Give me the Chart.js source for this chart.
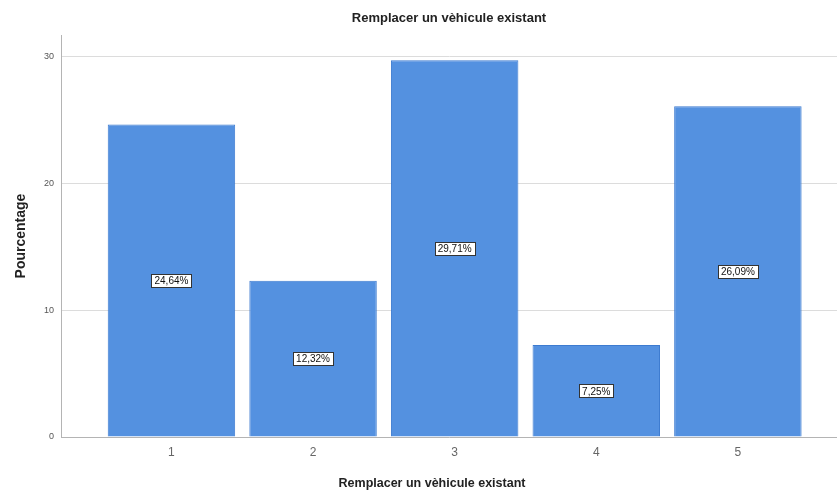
<!DOCTYPE html>
<html>
<head>
<meta charset="utf-8">
<script src="https://cdn.jsdelivr.net/npm/chart.js@4.4.1/dist/chart.umd.min.js"></script>
<style>
  html, body { margin: 0; padding: 0; background: #ffffff; }
  #wrap { width: 837px; height: 494px; position: relative; }
</style>
</head>
<body>
<div id="wrap"><canvas id="c"></canvas></div>
<script>
// Categories and percentages per answer
const categories = [1, 2, 3, 4, 5];
const percentages = [24.64, 12.32, 29.71, 7.25, 26.09];
const valueLabels = ['24,64%', '12,32%', '29,71%', '7,25%', '26,09%'];
const yTicks = [0, 10, 20, 30];
const chartTitle = 'Remplacer un vèhicule existant';
const xTitle = 'Remplacer un vèhicule existant';
const yTitle = 'Pourcentage';

const FONT = '"Liberation Sans", Arial, sans-serif';

// Boxed percentage label in the middle of each bar
const barLabels = {
  id: 'barLabels',
  afterDatasetsDraw(chart) {
    const ctx = chart.ctx;
    const meta = chart.getDatasetMeta(0);
    ctx.save();
    ctx.font = '10px ' + FONT;
    ctx.textAlign = 'center';
    ctx.textBaseline = 'middle';
    meta.data.forEach((bar, i) => {
      const cy = (bar.y + bar.base) / 2;
      const text = valueLabels[i];
      const w = Math.round(ctx.measureText(text).width + 6);
      const h = 13;
      const x0 = Math.round(bar.x - w / 2) + 0.5;
      const y0 = Math.round(cy - h / 2) + 0.5;
      ctx.fillStyle = '#ffffff';
      ctx.fillRect(x0, y0, w, h);
      ctx.strokeStyle = '#333333';
      ctx.lineWidth = 1;
      ctx.strokeRect(x0, y0, w, h);
      ctx.fillStyle = '#111111';
      ctx.fillText(text, bar.x, cy + 1);
    });
    ctx.restore();
  }
};

// Chart heading and horizontal axis caption
const captions = {
  id: 'captions',
  afterDraw(chart) {
    const ctx = chart.ctx;
    const area = chart.chartArea;
    ctx.save();
    ctx.fillStyle = '#222222';
    ctx.textAlign = 'center';
    ctx.textBaseline = 'middle';
    ctx.font = 'bold 13px ' + FONT;
    ctx.fillText(chartTitle, (area.left + area.right) / 2, 18);
    ctx.font = 'bold 12.5px ' + FONT;
    ctx.fillText(xTitle, area.left + 371, 484);
    ctx.restore();
  }
};

new Chart(document.getElementById('c'), {
  type: 'bar',
  data: {
    datasets: [{
      data: categories.map((c, i) => ({ x: c, y: percentages[i] })),
      backgroundColor: '#5491e0',
      borderColor: '#3d7bd0',
      borderWidth: 1,
      barPercentage: 0.9,
      categoryPercentage: 1.0
    }]
  },
  options: {
    responsive: true,
    maintainAspectRatio: false,
    animation: false,
    layout: { padding: { top: 35, right: 0, bottom: 0, left: 0 } },
    plugins: {
      legend: { display: false },
      title: { display: false },
      tooltip: { enabled: false }
    },
    scales: {
      x: {
        type: 'linear',
        offset: false,
        min: 0.22,
        max: 5.7,
        afterBuildTicks: s => { s.ticks = categories.map(v => ({ value: v })); },
        afterFit: s => { s.height = 57; },
        ticks: {
          color: '#666666',
          font: { family: FONT, size: 12 },
          padding: 8,
          callback: v => String(v)
        },
        grid: { display: false, drawTicks: false },
        border: { display: true, color: '#b4b4b4', width: 1 }
      },
      y: {
        min: 0,
        max: 31.7,
        afterBuildTicks: s => { s.ticks = yTicks.map(v => ({ value: v })); },
        afterFit: s => { s.width = 61; },
        ticks: {
          color: '#555555',
          font: { family: FONT, size: 9 },
          padding: 7
        },
        grid: { color: '#dcdcdc', lineWidth: 1, drawTicks: false },
        border: { display: true, color: '#b4b4b4', width: 1 },
        title: {
          display: true,
          text: yTitle,
          color: '#222222',
          font: { family: FONT, size: 14, weight: 'bold' },
          padding: { top: 13, bottom: 0 }
        }
      }
    }
  },
  plugins: [barLabels, captions]
});
</script>
</body>
</html>
